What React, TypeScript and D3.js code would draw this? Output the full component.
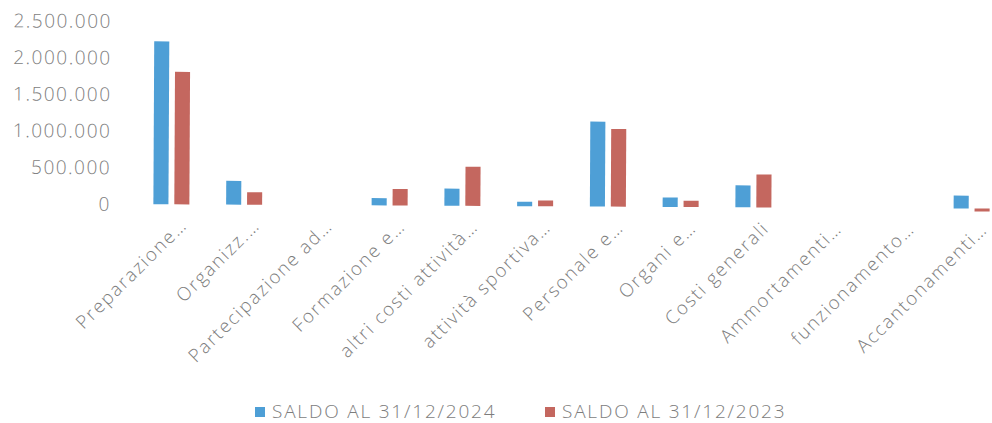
import React from 'react';
import * as d3 from 'd3';

const categories = [
  'Preparazione…',
  'Organizz.…',
  'Partecipazione ad…',
  'Formazione e…',
  'altri costi attività…',
  'attività sportiva…',
  'Personale e…',
  'Organi e…',
  'Costi generali',
  'Ammortamenti…',
  'funzionamento…',
  'Accantonamenti…',
];
const saldo2024 = [2225000, 325000, 0, 100000, 235000, 60000, 1160000, 130000, 300000, 0, 0, 175000];
const saldo2023 = [1810000, 170000, 0, 225000, 535000, 80000, 1060000, 85000, 450000, 0, 0, -40000];
const seriesNames = ['SALDO AL 31/12/2024', 'SALDO AL 31/12/2023'];
const yTicks = [0, 500000, 1000000, 1500000, 2000000, 2500000];

const colors = ['#4e9fd6', '#c4675f'];
const textColor = '#7d7d7d';
const font = "'Open Sans', sans-serif";

const W = 992;
const H = 423;

const locale = d3.formatLocale({ decimal: ',', thousands: '.', grouping: [3], currency: ['€', ''] });
const fmt = locale.format(',.0f');

export default function App() {
  const x = d3.scaleBand<string>().domain(categories).range([135, 1008]);
  const inner = d3.scaleBand<number>().domain([0, 1]).range([0, 36]).paddingInner(0.28);
  const y = d3.scaleLinear().domain([0, 2500000]).range([204, 21]);
  const series = [saldo2024, saldo2023];

  return (
    <svg width={W} height={H} style={{ position: 'absolute', left: 0, top: 0, background: '#fff' }}
      fontFamily={font}>
      {/* the scanned page is a little tilted */}
      <g transform="rotate(0.3,110,204)">
        <g>
          {yTicks.map((t) => (
            <text key={t} x={111} y={y(t)} dy="0.36em" textAnchor="end" fontSize={19}
              fontWeight={300} letterSpacing={1.5} fill={textColor}>
              {fmt(t)}
            </text>
          ))}
        </g>
        <g>
          {categories.map((c, i) => {
            const cx = x(c)! + x.bandwidth() / 2;
            return (
              <g key={c} transform={`translate(${cx - 18},0)`}>
                {series.map((s, k) => {
                  const v = s[i];
                  if (v === 0) return null;
                  const y0 = y(Math.max(0, v));
                  const y1 = y(Math.min(0, v));
                  return (
                    <rect key={k} x={inner(k)} y={y0} width={inner.bandwidth()} height={y1 - y0}
                      fill={colors[k]} />
                  );
                })}
              </g>
            );
          })}
        </g>
        <g>
          {categories.map((c) => {
            const cx = x(c)! + x.bandwidth() / 2;
            return (
              <text key={c} transform={`translate(${cx + 17},226) rotate(-45)`} textAnchor="end"
                fontSize={18.5} fontWeight={300} letterSpacing={1.8} fill={textColor}>
                {c}
              </text>
            );
          })}
        </g>
      </g>
      <g>
        {seriesNames.map((n, k) => (
          <g key={n} transform={`translate(${255 + k * 290},411)`}>
            <rect x={0} y={-4} width={10} height={10} fill={colors[k]} />
            <text x={17} y={0} dy="0.36em" fontSize={19} fontWeight={300} letterSpacing={1.8}
              fill={textColor}>
              {n}
            </text>
          </g>
        ))}
      </g>
    </svg>
  );
}
